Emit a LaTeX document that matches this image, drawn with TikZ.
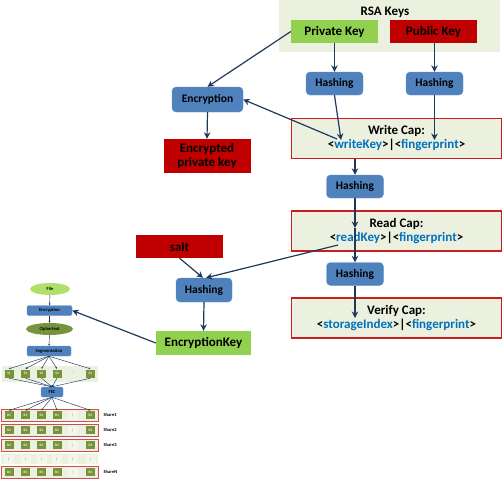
\documentclass[tikz,border=0pt]{standalone}
\usepackage{fontspec}
\setmainfont{Carlito}
\usetikzlibrary{arrows.meta,shapes.geometric}
\definecolor{panel}{RGB}{235,241,222}
\definecolor{keygreen}{RGB}{146,208,80}
\definecolor{keyred}{RGB}{192,0,0}
\definecolor{hashblue}{RGB}{79,129,189}
\definecolor{hashedge}{RGB}{100,150,210}
\definecolor{capred}{RGB}{200,30,30}
\definecolor{capblue}{RGB}{0,112,192}
\definecolor{arrowblue}{RGB}{31,56,92}
\definecolor{olive}{RGB}{119,147,60}
\definecolor{lightgreen}{RGB}{175,225,105}
\newcommand{\bigfont}{\fontsize{13}{14}\selectfont\bfseries}
\newcommand{\midfont}{\fontsize{11.5}{13}\selectfont\bfseries}
\newcommand{\smallfont}{\fontsize{4.6}{5}\selectfont\bfseries}
\newcommand{\tinyfont}{\fontsize{3.5}{4}\selectfont\bfseries}
\newcommand{\bl}[1]{\textcolor{capblue}{#1}}
\begin{document}
\begin{tikzpicture}[
      x=1pt, y=-1pt,
      keybox/.style={minimum width=87, minimum height=23, inner sep=0, font=\bigfont, align=center},
      greenbox/.style={keybox, fill=keygreen},
      redbox/.style={keybox, fill=keyred},
      hashbox/.style={draw=hashedge, fill=hashblue, rounded corners=4, minimum width=57,
                      minimum height=23, inner sep=0, font=\midfont},
      capbox/.style={draw=capred, line width=1.5, fill=panel, minimum width=210,
                     minimum height=40, inner sep=0, align=center, font=\bigfont},
      arr/.style={-{Stealth[length=6.5,width=6.5]}, draw=arrowblue, line width=1.2},
      tinyarr/.style={-{Stealth[length=2,width=2]}, draw=arrowblue, line width=0.45},
      smallblue/.style={draw=hashedge, fill=hashblue, rounded corners=1.5, minimum width=45,
                        minimum height=10, inner sep=0, font=\smallfont},
      seg/.style={fill=olive, draw=panel, line width=0.4, minimum width=10, minimum height=9,
                  inner sep=0, font=\tinyfont, text=panel},
      gapblk/.style={fill=panel!60!white, minimum width=10, minimum height=9, inner sep=0,
                     font=\tinyfont, text=black!40},
      sharerow/.style={draw=capred!80, line width=0.8, fill=panel, minimum width=97,
                       minimum height=12, inner sep=0}
    ]
      \useasboundingbox (0,0) rectangle (503,480);

      % RSA keys
      \node[fill=panel, minimum width=221, minimum height=52, inner sep=0] (rsa) at (389.5,26) {};
      \node[font=\bigfont] (rsaTitle) at (385,12) {RSA Keys};
      \node[greenbox] (privKey) at (334.5,31.5) {Private Key};
      \node[redbox] (pubKey) at (433.5,31.5) {Public Key};
      \node[hashbox] (hashPriv) at (334.5,83.5) {Hashing};
      \node[hashbox] (hashPub) at (434.5,83.5) {Hashing};

      % capabilities
      \node[capbox] (writeCap) at (396.5,138.5) {Write Cap:\\<\bl{writeKey}>|<\bl{fingerprint}>};
      \node[hashbox] (hashWrite) at (355,186.5) {Hashing};
      \node[capbox] (readCap) at (396.5,231) {Read Cap:\\<\bl{readKey}>|<\bl{fingerprint}>};
      \node[hashbox] (hashRead) at (355,274) {Hashing};
      \node[capbox] (verifyCap) at (396.5,318) {Verify Cap:\\<\bl{storageIndex}>|<\bl{fingerprint}>};
      \coordinate (wkEnd) at (341,140);
      \coordinate (wkTail) at (337,139);
      \coordinate (fpEnd) at (434.5,140);
      \coordinate (rcEnd) at (355,228);
      \coordinate (rkTail) at (338,245);
      \coordinate (vcEnd) at (355,318);

      % private key encryption
      \node[hashbox, minimum width=71, minimum height=25] (encrypt) at (207.5,99.5) {Encryption};
      \node[redbox, minimum height=34] (encPriv) at (207,156) {Encrypted\\private key};

      % salt and encryption key
      \node[redbox, minimum width=87] (salt) at (179.5,246.5) {salt};
      \node[hashbox, minimum width=56, minimum height=24] (hashSalt) at (204,290) {Hashing};
      \node[greenbox, minimum width=95, minimum height=24] (encKey) at (203.5,343) {EncryptionKey};

      \draw[arr] (privKey.west) -- (encrypt.north);
      \draw[arr] (hashPriv.north |- privKey.south) -- (hashPriv.north);
      \draw[arr] (hashPub.north |- pubKey.south) -- (hashPub.north);
      \draw[arr] (hashPriv.south) -- (wkEnd);
      \draw[arr] (hashPub.south) -- (fpEnd);
      \draw[arr] (wkTail) -- (encrypt.east);
      \draw[arr] (encrypt.south) -- (encPriv.north);
      \draw[arr] (writeCap.south -| hashWrite.north) -- (hashWrite.north);
      \draw[arr] (hashWrite.south) -- (rcEnd);
      \draw[arr] (rcEnd) -- (hashRead.north);
      \draw[arr] (hashRead.south) -- (vcEnd);
      \draw[arr] (rkTail) -- ([xshift=2]hashSalt.north);
      \draw[arr] (salt.south) -- ([xshift=-1]hashSalt.north);
      \draw[arr] (hashSalt.south) -- (encKey.north);

      % file pipeline
      \node[ellipse, fill=lightgreen, minimum width=40, minimum height=12, inner sep=0,
            font=\smallfont] (file) at (50,289) {File};
      \node[smallblue] (sEnc) at (49.5,310.5) {Encryption};
      \node[ellipse, fill=olive, minimum width=47, minimum height=12, inner sep=0,
            font=\smallfont] (cipher) at (49.5,329) {Ciphertext};
      \node[smallblue, minimum width=44] (segm) at (49,351) {Segmentation};
      \node[smallblue, minimum width=22] (fec) at (52,392) {FEC};
      \draw[arr] (encKey.west) -- (sEnc.east);
      \draw[tinyarr] (file) -- (sEnc);
      \draw[tinyarr] (sEnc) -- (cipher);
      \draw[tinyarr] (cipher) -- (segm);

      \node[fill=panel, minimum width=96, minimum height=16, inner sep=0] (sRow) at (50,373.5) {};
      \node[font=\tinyfont, text=black!40] (sDots) at (73,373.5) {...};
      \foreach \xx/\lab [count=\c] in {9/S1,25.5/S2,41.5/S3,57/S4,90.5/Sn} {
        \node[seg] (s\c) at (\xx,373.5) {\lab};
        \draw[tinyarr] (segm.south) -- (s\c.north);
        \draw[tinyarr] (s\c.south) -- (fec.north);
      }

      % shares
      \foreach \yy/\b/\nm in {415/B1/Share1,430/B2/Share2,445/B3/Share3,472/Bn/ShareN} {
        \node[sharerow] (row\b) at (49.5,\yy) {};
        \foreach \xx [count=\c] in {9,25.5,41.5,57,90.5} {
          \node[seg] (\b-\c) at (\xx,\yy) {\b};
        }
        \node[gapblk] (\b-gap) at (73,\yy) {|};
        \node[font=\smallfont, anchor=west] (\nm) at (100,\yy) {\nm};
      }
      \node[fill=panel, minimum width=97, minimum height=10, inner sep=0] (dotRow) at (49.5,459) {};
      \foreach \xx [count=\c] in {9,25.5,41.5,57,73,90.5} {
        \node[gapblk] (dot\c) at (\xx,459) {|};
      }
      \foreach \c in {1,...,5} {
        \draw[tinyarr] (fec.south) -- (B1-\c.north);
      }
    \end{tikzpicture}
\end{document}
